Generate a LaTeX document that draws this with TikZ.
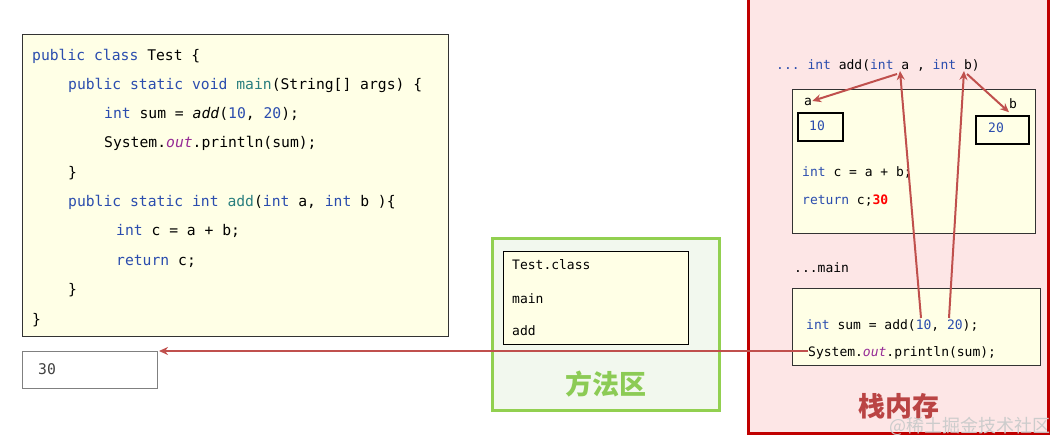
\documentclass[tikz,border=0pt]{standalone}
\usepackage{fontspec}
\setmonofont{DejaVu Sans Mono}
\newfontfamily\cjk{Noto Sans CJK SC}
\usetikzlibrary{arrows.meta}
\definecolor{codefill}{HTML}{FFFFE6}
\definecolor{kwblue}{HTML}{2B4DAE}
\definecolor{mthteal}{HTML}{2A7F7F}
\definecolor{fldpurple}{HTML}{962B96}
\definecolor{linkred}{HTML}{C0504D}
\definecolor{stackred}{HTML}{C00000}
\definecolor{stackfill}{HTML}{FDE6E6}
\definecolor{areagreen}{HTML}{92D050}
\definecolor{areafill}{HTML}{F2F8EE}
\definecolor{areatext}{HTML}{8CCB55}
\definecolor{stacktext}{HTML}{BA4444}
\newcommand\kwd[1]{\textcolor{kwblue}{#1}}
\newcommand\mth[1]{\textcolor{mthteal}{#1}}
\newcommand\sfld[1]{\textcolor{fldpurple}{\itshape #1}}

\begin{document}
\begin{tikzpicture}[x=1pt,y=-1pt]
  \tikzset{
    frame/.style={anchor=north west,draw=black!80,fill=codefill,line width=1.2pt,inner sep=0pt},
    cell/.style={anchor=north west,draw=black,line width=1.6pt,inner sep=0pt},
    code/.style={anchor=west,inner sep=0pt,text height=13pt,text depth=3pt,font=\fontsize{14.7}{16}\ttfamily},
    scode/.style={code,font=\fontsize{13}{15}\ttfamily},
    link/.style={draw=linkred,line width=2pt,-{Stealth[length=9pt,width=8pt]}},
    title/.style={font=\cjk\bfseries\fontsize{27}{30}\selectfont}
  }
  \useasboundingbox (0,0) rectangle (1057,443);
  % source code
  \node[frame,minimum width=426pt,minimum height=302pt] (src) at (22,34) {};
  \node[code] (l1) at (32,56) {\kwd{public class} Test \{};
  \node[code] (l2) at (68,85) {\kwd{public static void} \mth{main}(String[] args) \{};
  \node[code] (l3) at (104,114) {\kwd{int} sum = \textit{add}(\kwd{10}, \kwd{20});};
  \node[code] (l4) at (104,143) {System.\sfld{out}.println(sum);};
  \node[code] (l5) at (68,173) {\}};
  \node[code] (l6) at (68,202) {\kwd{public static int} \mth{add}(\kwd{int} a, \kwd{int} b )\{};
  \node[code] (l7) at (116,231) {\kwd{int} c = a + b;};
  \node[code] (l8) at (116,261) {\kwd{return} c;};
  \node[code] (l9) at (68,290) {\}};
  \node[code] (l10) at (32,320) {\}};
  % console output
  \node[anchor=north west,draw=black!50,fill=white,line width=1.2pt,minimum width=135pt,minimum height=37pt] (out) at (22,351) {};
  \node[code,text=black!75] (res) at (38,369) {30};
  % method area
  \node[anchor=north west,draw=areagreen,fill=areafill,line width=3pt,minimum width=227pt,minimum height=172pt] (area) at (491,237) {};
  \node[frame,draw=black,minimum width=185pt,minimum height=93pt] (cls) at (503,251) {};
  \node[scode] (cname) at (512,265) {Test.class};
  \node[scode] (cmain) at (512,299) {main};
  \node[scode] (cadd) at (512,331) {add};
  \node[title,text=areatext] (areaname) at (606,384) {方法区};
  % stack
  \node[anchor=north west,draw=stackred,fill=stackfill,line width=3pt,minimum width=300pt,minimum height=452pt] (stack) at (747,-20) {};
  \node[scode] (sig) at (776,65) {\kwd{... int} add(\kwd{int} a , \kwd{int} b)};
  \node[frame,minimum width=243pt,minimum height=144pt] (addf) at (792,89) {};
  \node[scode] (la) at (804,101) {a};
  \node[cell,minimum width=45pt,minimum height=28pt] (ca) at (797,112) {};
  \node[scode,text=kwblue] (va) at (809,126) {10};
  \node[scode] (lb) at (1009,104) {b};
  \node[cell,minimum width=53pt,minimum height=28pt] (cb) at (975,115) {};
  \node[scode,text=kwblue] (vb) at (988,128) {20};
  \node[scode] (ac) at (802,172) {\kwd{int} c = a + b;};
  \node[scode] (ar) at (802,200) {\kwd{return} c;\textcolor{red}{\bfseries 30}};
  \node[scode] (mlab) at (794,268) {...main};
  \node[frame,minimum width=248pt,minimum height=77pt] (mainf) at (792,288) {};
  \node[scode] (msum) at (806,325) {\kwd{int} sum = add(\kwd{10}, \kwd{20});};
  \node[scode] (msys) at (808,351) {System.\sfld{out}.println(sum);};
  \node[title,text=stacktext] (stackname) at (899,406) {栈内存};
  \node[font=\cjk\fontsize{18}{20}\selectfont,text=black!20] (mark) at (970,426) {@稀土掘金技术社区};
  % argument passing
  \coordinate (siga) at (900,71);
  \coordinate (sigb) at (964,71);
  \coordinate (froma) at (897,74);
  \coordinate (fromb) at (967,74);
  \coordinate (m10) at (921,318);
  \coordinate (m20) at (949,318);
  \coordinate (outhit) at (159,353);
  \draw[link] (m10) -- (siga);
  \draw[link] (m20) -- (sigb);
  \draw[link] (froma) -- (la.east);
  \draw[link] (fromb) -- (lb.south west);
  \draw[link] (msys.west) -- (msys.west -| outhit);
\end{tikzpicture}
\end{document}
